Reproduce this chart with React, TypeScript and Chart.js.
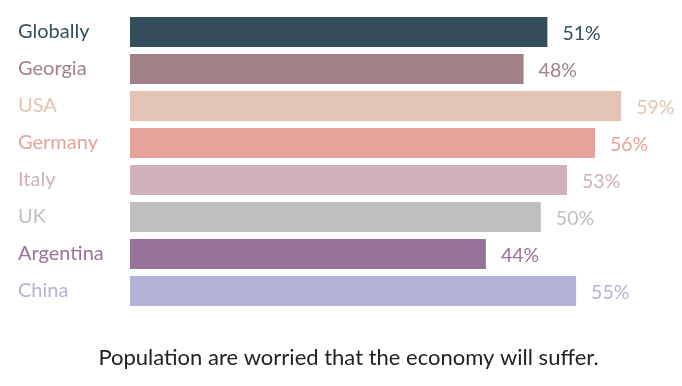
import React, { useEffect, useRef } from "react";
import { Chart, registerables } from "chart.js";

Chart.register(...registerables);

const categories = ["Globally", "Georgia", "USA", "Germany", "Italy", "UK", "Argentina", "China"];
const values = [50.9, 48.0, 59.9, 56.7, 53.3, 50.1, 43.4, 54.4];
const valueLabels = ["51%", "48%", "59%", "56%", "53%", "50%", "44%", "55%"];
const colors = ["#344d5b", "#a28088", "#e3c3b3", "#e5a39b", "#d0b0b9", "#bfbfbf", "#977398", "#b3b3d9"];
const caption = "Population are worried that the economy will suffer.";

const FONT = "Lato, 'Noto Sans', sans-serif";

export default function App() {
  const ref = useRef<HTMLCanvasElement | null>(null);

  useEffect(() => {
    if (!ref.current) return;
    const labelPlugin = {
      id: "valueLabels",
      afterDatasetsDraw(chart: any) {
        const ctx = chart.ctx;
        const meta = chart.getDatasetMeta(0);
        ctx.save();
        ctx.font = `19.5px ${FONT}`;
        ctx.textAlign = "left";
        ctx.textBaseline = "middle";
        meta.data.forEach((el: any, i: number) => {
          ctx.fillStyle = colors[i];
          ctx.fillText(valueLabels[i], el.x + 15, el.y + 1.5);
        });
        ctx.font = `22px ${FONT}`;
        ctx.fillStyle = "#222222";
        ctx.textAlign = "center";
        ctx.fillText(caption, 348.5, 358);
        ctx.restore();
      },
    };
    const chart = new Chart(ref.current, {
      type: "bar",
      data: {
        labels: categories,
        datasets: [
          {
            data: values,
            backgroundColor: colors,
            borderWidth: 0,
            barPercentage: 0.81,
            categoryPercentage: 1,
          },
        ],
      },
      options: {
        indexAxis: "y",
        animation: false,
        responsive: false,
        layout: { padding: { left: 18, right: 60, top: 13.5, bottom: 76.5 } },
        scales: {
          x: { display: false, min: 0, max: 60 },
          y: {
            grid: { display: false },
            border: { display: false },
            afterFit: (s: any) => {
              s.width = 112;
            },
            ticks: {
              crossAlign: "far",
              padding: 0,
              color: (c: any) => colors[c.index],
              font: { family: FONT, size: 20 },
            },
          },
        },
        plugins: {
          legend: { display: false },
          tooltip: { enabled: false },
        },
      },
      plugins: [labelPlugin],
    });
    return () => chart.destroy();
  }, []);

  return (
    <div style={{ position: "absolute", left: 0, top: 0, width: 682, height: 386, background: "#fff" }}>
      <canvas ref={ref} width={682} height={386} />
    </div>
  );
}
